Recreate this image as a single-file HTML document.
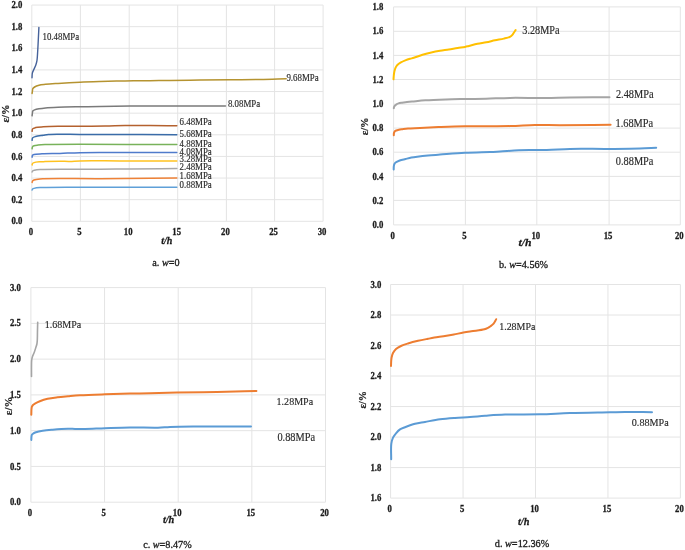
<!DOCTYPE html><html><head><meta charset="utf-8"><style>
html,body{margin:0;padding:0;background:#fff;width:685px;height:550px;overflow:hidden}
svg{display:block;will-change:transform}
text{font-family:"Liberation Serif",serif}
.tk{font-weight:bold;fill:#1a1a1a;stroke:#1a1a1a;stroke-width:0.25px}
.dl{fill:#2a2a2a;stroke:#2a2a2a;stroke-width:0.15px}
.xt{font-weight:bold;font-style:italic;fill:#1a1a1a;stroke:#1a1a1a;stroke-width:0.25px}
.yt{font-weight:bold;fill:#1a1a1a;stroke:#1a1a1a;stroke-width:0.2px}
.cp{fill:#1a1a1a;stroke:#1a1a1a;stroke-width:0.3px}
</style></head><body>
<svg width="685" height="550" viewBox="0 0 685 550">
<rect width="685" height="550" fill="#fff"/>
<g stroke="#E4E4E4" stroke-width="1" fill="none" shape-rendering="auto">
<line x1="31.8" y1="5.05" x2="31.8" y2="221.3"/>
<line x1="80.4" y1="5.05" x2="80.4" y2="221.3"/>
<line x1="129.2" y1="5.05" x2="129.2" y2="221.3"/>
<line x1="177.7" y1="5.05" x2="177.7" y2="221.3"/>
<line x1="226.4" y1="5.05" x2="226.4" y2="221.3"/>
<line x1="274.6" y1="5.05" x2="274.6" y2="221.3"/>
<line x1="323.1" y1="5.05" x2="323.1" y2="221.3"/>
<line x1="31.8" y1="221.3" x2="323.1" y2="221.3"/>
<line x1="31.8" y1="199.68" x2="323.1" y2="199.68"/>
<line x1="31.8" y1="178.05" x2="323.1" y2="178.05"/>
<line x1="31.8" y1="156.43" x2="323.1" y2="156.43"/>
<line x1="31.8" y1="134.8" x2="323.1" y2="134.8"/>
<line x1="31.8" y1="113.18" x2="323.1" y2="113.18"/>
<line x1="31.8" y1="91.55" x2="323.1" y2="91.55"/>
<line x1="31.8" y1="69.93" x2="323.1" y2="69.93"/>
<line x1="31.8" y1="48.3" x2="323.1" y2="48.3"/>
<line x1="31.8" y1="26.68" x2="323.1" y2="26.68"/>
<line x1="31.8" y1="5.05" x2="323.1" y2="5.05"/>
<line x1="393.6" y1="6.9" x2="393.6" y2="224.9"/>
<line x1="465.4" y1="6.9" x2="465.4" y2="224.9"/>
<line x1="536.8" y1="6.9" x2="536.8" y2="224.9"/>
<line x1="609.1" y1="6.9" x2="609.1" y2="224.9"/>
<line x1="680.3" y1="6.9" x2="680.3" y2="224.9"/>
<line x1="393.6" y1="224.9" x2="680.3" y2="224.9"/>
<line x1="393.6" y1="200.4" x2="680.3" y2="200.4"/>
<line x1="393.6" y1="176.4" x2="680.3" y2="176.4"/>
<line x1="393.6" y1="152.2" x2="680.3" y2="152.2"/>
<line x1="393.6" y1="128.1" x2="680.3" y2="128.1"/>
<line x1="393.6" y1="104.2" x2="680.3" y2="104.2"/>
<line x1="393.6" y1="79.5" x2="680.3" y2="79.5"/>
<line x1="393.6" y1="55.4" x2="680.3" y2="55.4"/>
<line x1="393.6" y1="31.3" x2="680.3" y2="31.3"/>
<line x1="393.6" y1="6.9" x2="680.3" y2="6.9"/>
<line x1="30.9" y1="287.6" x2="30.9" y2="502.2"/>
<line x1="104.55" y1="287.6" x2="104.55" y2="502.2"/>
<line x1="178.2" y1="287.6" x2="178.2" y2="502.2"/>
<line x1="251.85" y1="287.6" x2="251.85" y2="502.2"/>
<line x1="325.5" y1="287.6" x2="325.5" y2="502.2"/>
<line x1="30.9" y1="502.2" x2="325.5" y2="502.2"/>
<line x1="30.9" y1="466.43" x2="325.5" y2="466.43"/>
<line x1="30.9" y1="430.67" x2="325.5" y2="430.67"/>
<line x1="30.9" y1="394.9" x2="325.5" y2="394.9"/>
<line x1="30.9" y1="359.13" x2="325.5" y2="359.13"/>
<line x1="30.9" y1="323.37" x2="325.5" y2="323.37"/>
<line x1="30.9" y1="287.6" x2="325.5" y2="287.6"/>
<line x1="390.6" y1="284.5" x2="390.6" y2="498.1"/>
<line x1="463.05" y1="284.5" x2="463.05" y2="498.1"/>
<line x1="535.5" y1="284.5" x2="535.5" y2="498.1"/>
<line x1="607.95" y1="284.5" x2="607.95" y2="498.1"/>
<line x1="680.4" y1="284.5" x2="680.4" y2="498.1"/>
<line x1="390.6" y1="498.1" x2="680.4" y2="498.1"/>
<line x1="390.6" y1="467.59" x2="680.4" y2="467.59"/>
<line x1="390.6" y1="437.07" x2="680.4" y2="437.07"/>
<line x1="390.6" y1="406.56" x2="680.4" y2="406.56"/>
<line x1="390.6" y1="376.04" x2="680.4" y2="376.04"/>
<line x1="390.6" y1="345.53" x2="680.4" y2="345.53"/>
<line x1="390.6" y1="315.01" x2="680.4" y2="315.01"/>
<line x1="390.6" y1="284.5" x2="680.4" y2="284.5"/>
</g>
<g fill="none" stroke-linejoin="round" stroke-linecap="round">
<path stroke="#B59330" stroke-width="1.5" d="M32.1,93.4 C32.23,92.43 32.37,91.35 32.5,90.5 C32.6,89.83 32.51,89.25 32.8,88.7 C33.14,88.06 33.81,87.51 34.6,87 C35.7,86.29 37.36,85.64 39,85.2 C40.93,84.68 42.98,84.57 45.5,84.3 C48.99,83.93 53.25,83.7 58,83.4 C64.3,83 72.84,82.52 80,82.2 C86.82,81.89 92.96,81.71 100,81.5 C107.87,81.27 116.67,81.03 125,80.9 C133.33,80.77 142.13,80.79 150,80.7 C157.04,80.62 162.66,80.5 170,80.4 C178.99,80.27 190,80.12 200,80 C210,79.88 220,79.78 230,79.7 C240,79.62 250.34,79.68 260,79.5 C269.03,79.33 277.47,78.97 286.2,78.7"/>
<path stroke="#46629A" stroke-width="1.4" d="M32,77.8 C32.13,76.17 32.03,74.4 32.4,72.9 C32.74,71.52 33.44,70.41 34,69.1 C34.6,67.69 35.4,66.18 35.9,64.7 C36.39,63.28 36.73,62.05 37,60.4 C37.36,58.22 37.41,55.49 37.6,52.7 C37.82,49.38 38,45.69 38.2,41.8 C38.43,37.33 38.67,32.2 38.9,27.4"/>
<path stroke="#7A7A7A" stroke-width="1.5" d="M32.1,115.8 C32.23,114.7 32.36,113.38 32.5,112.5 C32.6,111.9 32.51,111.41 32.8,111 C33.14,110.51 33.84,110.22 34.6,109.9 C35.72,109.43 37.38,109.11 39,108.8 C40.95,108.42 42.98,108.14 45.5,107.9 C48.99,107.56 53.25,107.38 58,107.2 C64.3,106.97 72.84,106.9 80,106.8 C86.83,106.7 92.66,106.7 100,106.6 C108.99,106.48 118.73,106.21 130,106.1 C144.55,105.96 163.73,106.03 180,106 C195.52,105.97 210.33,105.93 225.5,105.9"/>
<path stroke="#B4612E" stroke-width="1.5" d="M32.1,131.3 C32.27,130.5 32.11,129.5 32.6,128.9 C33.17,128.2 34.34,127.93 35.6,127.6 C37.54,127.09 40.32,127.01 43.3,126.8 C47.41,126.52 52.61,126.4 58,126.3 C64.6,126.17 72.43,126.23 80,126.2 C88.07,126.17 97.13,126.21 105,126.1 C112.04,126 117.96,125.69 125,125.6 C132.87,125.5 141.52,125.58 150,125.6 C158.78,125.62 167.87,125.67 176.8,125.7"/>
<path stroke="#3A6CA8" stroke-width="1.5" d="M32.1,140.3 C32.27,139.5 32.11,138.52 32.6,137.9 C33.17,137.18 34.33,136.89 35.6,136.5 C37.54,135.91 41,135.64 43.3,135.3 C45.17,135.03 46.43,134.77 48.4,134.6 C51.09,134.37 54.15,134.35 58,134.3 C63.83,134.22 70.07,134.36 80,134.4 C100.83,134.48 144.53,134.6 176.8,134.7"/>
<path stroke="#78B25A" stroke-width="1.5" d="M32.1,148.8 C32.23,148.13 32.16,147.31 32.5,146.8 C32.82,146.32 33.34,146.06 34,145.8 C34.98,145.41 36.48,145.29 38,145.1 C40,144.85 41.2,144.74 45,144.6 C61.45,144.01 132.87,144.6 176.8,144.6"/>
<path stroke="#4F7BCB" stroke-width="1.5" d="M32.1,157.2 C32.23,156.57 32.16,155.75 32.5,155.3 C32.82,154.88 33.27,154.72 34,154.5 C35.58,154.03 38.8,153.98 42,153.8 C46.8,153.54 53.84,153.58 60,153.4 C66.49,153.21 72.19,152.85 80,152.7 C91.04,152.49 105.5,152.63 120,152.6 C137.28,152.56 157.87,152.53 176.8,152.5"/>
<path stroke="#FFC21F" stroke-width="1.5" d="M32.1,164.9 C32.27,164.4 32.29,163.78 32.6,163.4 C32.92,163.01 33.34,162.82 34,162.6 C35.28,162.17 38.09,161.97 40,161.8 C41.74,161.65 42.89,161.66 45,161.6 C48.66,161.49 55.5,161.32 60,161.3 C63.67,161.28 66.67,161.47 70,161.4 C73.33,161.33 75.55,161.01 80,160.9 C88.89,160.68 105.5,160.9 120,160.9 C137.28,160.9 157.87,160.9 176.8,160.9"/>
<path stroke="#A8A8A8" stroke-width="1.5" d="M32.1,172 C32.27,171.67 32.31,171.27 32.6,171 C32.98,170.65 33.62,170.5 34.4,170.3 C35.74,169.95 37.13,169.71 40,169.5 C49.35,168.82 83.43,169.44 100,169.3 C111.72,169.2 118.89,169.01 130,168.9 C143.87,168.76 161.2,168.7 176.8,168.6"/>
<path stroke="#EE8136" stroke-width="1.5" d="M32.1,182.4 C32.27,181.93 32.3,181.39 32.6,181 C32.92,180.58 33.33,180.29 34,180 C35.27,179.46 36.94,179.18 40,178.9 C49.59,178.01 78.77,178.82 100,178.7 C124.02,178.57 151.2,178.3 176.8,178.1"/>
<path stroke="#5FA0D8" stroke-width="1.5" d="M32.1,190 C32.27,189.67 32.33,189.26 32.6,189 C32.92,188.7 33.35,188.58 34,188.4 C35.29,188.05 36.95,187.81 40,187.6 C49.6,186.94 78.77,187.37 100,187.3 C124.02,187.22 151.2,187.23 176.8,187.2"/>
<path stroke="#FFC000" stroke-width="2.0" d="M393.5,79.3 C393.6,78.03 393.69,76.63 393.8,75.5 C393.89,74.58 393.96,73.85 394.1,73 C394.25,72.11 394.47,71.15 394.7,70.3 C394.91,69.52 395.11,68.79 395.4,68.1 C395.68,67.43 396.02,66.77 396.4,66.2 C396.76,65.68 397.06,65.3 397.6,64.8 C398.4,64.06 399.68,63.11 400.9,62.4 C402.23,61.63 403.79,61 405.3,60.4 C406.83,59.8 408.51,59.25 410,58.8 C411.33,58.4 412.29,58.27 413.8,57.8 C416.12,57.08 419.57,55.59 422.5,54.7 C425.4,53.82 428.37,53.15 431.3,52.5 C434.2,51.85 437.09,51.3 440,50.8 C442.92,50.3 445.87,49.97 448.8,49.5 C451.74,49.03 454.79,48.45 457.6,48 C460.17,47.59 462.95,47.29 465,46.9 C466.48,46.61 467.28,46.37 468.8,46 C471.11,45.43 474.58,44.42 477.5,43.8 C480.41,43.18 483.38,42.88 486.3,42.3 C489.22,41.72 492.09,40.92 495,40.3 C497.92,39.68 501.15,39.25 503.8,38.6 C506.03,38.06 508.34,37.62 509.9,36.8 C511.06,36.19 511.85,35.43 512.6,34.6 C513.3,33.82 513.77,32.8 514.3,32 C514.76,31.31 515.17,30.73 515.6,30.1"/>
<path stroke="#A5A5A5" stroke-width="2.0" d="M393.8,108.2 C393.93,107.67 393.98,107.07 394.2,106.6 C394.4,106.18 394.66,105.85 395,105.5 C395.4,105.08 395.94,104.64 396.5,104.3 C397.1,103.93 397.72,103.65 398.5,103.4 C399.49,103.08 400.83,102.9 402,102.7 C403.16,102.5 404.15,102.36 405.5,102.2 C407.33,101.98 409.45,101.84 412,101.6 C415.67,101.25 420.46,100.65 425.4,100.3 C431.5,99.87 439.07,99.62 445.9,99.4 C452.71,99.18 459.56,99.12 466.3,99 C472.92,98.88 479.11,98.87 486,98.7 C493.61,98.52 501.19,98.03 510,97.9 C520.79,97.74 535.21,98.12 546,98 C554.81,97.9 561.01,97.52 570,97.4 C581.53,97.24 596.33,97.33 609.5,97.3"/>
<path stroke="#ED7D31" stroke-width="2.0" d="M393.8,135.2 C393.87,134.4 393.74,133.52 394,132.8 C394.25,132.09 394.65,131.38 395.3,130.9 C396.14,130.28 397.69,130.08 398.9,129.8 C400.09,129.52 401.17,129.4 402.5,129.2 C404.14,128.96 405.81,128.68 408,128.5 C411.22,128.23 415.49,128.21 420,128 C425.82,127.73 432.96,127.29 440,127 C447.87,126.68 455.45,126.36 465,126.2 C477.81,125.98 497.19,126.4 510,126.1 C519.55,125.88 526.66,125.15 535,125 C543.33,124.85 550.21,125.21 560,125.2 C573.92,125.19 593.73,124.87 610.6,124.7"/>
<path stroke="#5B9BD5" stroke-width="2.0" d="M393.7,169.4 C393.73,168.43 393.68,167.39 393.8,166.5 C393.9,165.71 393.99,164.96 394.3,164.3 C394.6,163.66 394.96,163.13 395.6,162.6 C396.53,161.82 398.18,161.08 399.7,160.5 C401.43,159.84 403.56,159.48 405.5,159 C407.46,158.52 409.43,157.99 411.4,157.6 C413.33,157.22 414.96,157 417.2,156.7 C420.24,156.3 424.3,155.84 428,155.5 C431.89,155.14 435.27,154.95 440,154.6 C446.82,154.1 456.66,153.23 465,152.8 C473.33,152.37 483.54,152.23 490,152 C494.08,151.85 496.15,151.82 500,151.6 C505.27,151.3 511.83,150.48 518.7,150.2 C527.09,149.86 537.8,150.24 546.7,150 C554.83,149.78 561.31,149.1 570,148.9 C581.02,148.64 595.45,148.96 607.5,148.9 C618.72,148.85 631.04,148.86 640,148.6 C646.33,148.41 650.8,148.07 656.2,147.8"/>
<path stroke="#A5A5A5" stroke-width="1.6" d="M31.5,376.5 C31.5,372.67 31.44,368.05 31.5,365 C31.54,362.99 31.5,361.51 31.7,360 C31.87,358.72 32.12,357.69 32.5,356.5 C32.92,355.19 33.66,353.95 34.2,352.5 C34.83,350.82 35.51,348.56 36,347 C36.36,345.85 36.69,345.08 36.9,344 C37.14,342.77 37.2,341.64 37.3,340 C37.45,337.42 37.43,333.13 37.5,330 C37.56,327.24 37.63,324.8 37.7,322.2"/>
<path stroke="#ED7D31" stroke-width="2.0" d="M31.3,414.7 C31.37,412.8 31.35,410.47 31.5,409 C31.6,408.06 31.63,407.38 31.9,406.7 C32.15,406.06 32.52,405.49 33,405 C33.51,404.48 34.1,404.17 34.9,403.7 C36.13,402.98 37.95,402.05 39.8,401.3 C42.07,400.39 44.82,399.45 47.6,398.8 C50.68,398.08 54.15,397.71 57.5,397.3 C60.94,396.88 64.38,396.62 68,396.3 C71.87,395.95 75.27,395.59 80,395.3 C86.82,394.88 96.67,394.58 105,394.3 C113.33,394.02 122.13,393.79 130,393.6 C137.04,393.43 142.83,393.36 150,393.2 C158.33,393.01 167.12,392.69 177,392.5 C189.03,392.27 203.72,392.27 217,392 C230.18,391.73 243.27,391.27 256.4,390.9"/>
<path stroke="#5B9BD5" stroke-width="2.0" d="M31.3,439.9 C31.37,438.77 31.37,437.45 31.5,436.5 C31.6,435.8 31.59,435.22 31.9,434.7 C32.23,434.14 32.88,433.7 33.5,433.3 C34.19,432.85 34.87,432.54 35.9,432.2 C37.57,431.64 40.21,431.1 42.7,430.7 C45.68,430.22 48.93,429.99 52.6,429.7 C57.17,429.34 63.86,428.89 68,428.8 C70.79,428.74 72.46,428.88 75,428.9 C78.04,428.92 81.1,428.97 85,428.9 C90.52,428.8 97.96,428.42 105,428.2 C112.87,427.95 121.43,427.59 130,427.5 C139.07,427.41 150.62,427.89 158,427.7 C162.84,427.58 165.35,427.18 170,427 C176.43,426.76 183.59,426.68 193,426.6 C207.94,426.47 231.67,426.6 251,426.6"/>
<path stroke="#ED7D31" stroke-width="2.0" d="M391,366 C391.07,364.33 391.08,362.52 391.2,361 C391.3,359.73 391.34,358.73 391.6,357.5 C391.9,356.08 392.28,354.4 393,353 C393.74,351.56 394.74,350.14 396,349 C397.36,347.77 399.15,346.88 401,346 C403.09,345.01 405.44,344.3 408,343.5 C411.02,342.55 414.65,341.59 418,340.8 C421.32,340.02 424.66,339.43 428,338.8 C431.33,338.17 434.96,337.47 438,337 C440.54,336.61 442.54,336.48 445,336.1 C447.77,335.67 450.81,335.07 453.8,334.5 C456.93,333.91 460.35,333.15 463.4,332.6 C466.16,332.1 468.33,331.77 471.3,331.3 C475.12,330.69 481.43,330.13 484.4,329.3 C486.01,328.85 486.93,328.36 488,327.8 C488.93,327.31 489.64,326.83 490.5,326.2 C491.5,325.46 492.69,324.67 493.6,323.6 C494.62,322.39 495.33,320.67 496.2,319.2"/>
<path stroke="#5B9BD5" stroke-width="2.0" d="M391.2,459.2 C391.23,454.07 390.75,447.74 391.3,443.8 C391.65,441.28 392.16,439.51 393,437.7 C393.77,436.04 394.85,434.67 396,433.3 C397.18,431.9 398.49,430.42 400,429.4 C401.49,428.39 403.03,427.98 405,427.2 C407.74,426.12 411.63,424.59 415,423.7 C418.3,422.83 421.33,422.55 425,421.9 C429.49,421.11 434.99,419.97 440,419.3 C444.99,418.64 450,418.28 455,417.9 C460,417.52 465,417.35 470,417 C475,416.65 479.64,416.18 485,415.8 C491.19,415.37 497.4,414.86 505,414.6 C515.04,414.26 528.79,414.59 540,414.3 C550.39,414.03 559.28,413.33 570,413 C582.37,412.62 599.87,412.49 610,412.3 C616.2,412.18 619.27,412.04 625,412 C632.69,411.95 643,412.13 652,412.2"/>
</g>
<text class="tk" transform="translate(30.8 235.2) scale(0.97 1.05)" text-anchor="middle" font-size="9.0">0</text>
<text class="tk" transform="translate(79.4 235.2) scale(0.97 1.05)" text-anchor="middle" font-size="9.0">5</text>
<text class="tk" transform="translate(128.2 235.2) scale(0.97 1.05)" text-anchor="middle" font-size="9.0">10</text>
<text class="tk" transform="translate(176.7 235.2) scale(0.97 1.05)" text-anchor="middle" font-size="9.0">15</text>
<text class="tk" transform="translate(225.4 235.2) scale(0.97 1.05)" text-anchor="middle" font-size="9.0">20</text>
<text class="tk" transform="translate(273.6 235.2) scale(0.97 1.05)" text-anchor="middle" font-size="9.0">25</text>
<text class="tk" transform="translate(322.1 235.2) scale(0.97 1.05)" text-anchor="middle" font-size="9.0">30</text>
<text class="tk" transform="translate(22.3 224.42) scale(0.97 1.05)" text-anchor="end" font-size="9.0">0.0</text>
<text class="tk" transform="translate(22.3 202.79) scale(0.97 1.05)" text-anchor="end" font-size="9.0">0.2</text>
<text class="tk" transform="translate(22.3 181.17) scale(0.97 1.05)" text-anchor="end" font-size="9.0">0.4</text>
<text class="tk" transform="translate(22.3 159.54) scale(0.97 1.05)" text-anchor="end" font-size="9.0">0.6</text>
<text class="tk" transform="translate(22.3 137.92) scale(0.97 1.05)" text-anchor="end" font-size="9.0">0.8</text>
<text class="tk" transform="translate(22.3 116.29) scale(0.97 1.05)" text-anchor="end" font-size="9.0">1.0</text>
<text class="tk" transform="translate(22.3 94.67) scale(0.97 1.05)" text-anchor="end" font-size="9.0">1.2</text>
<text class="tk" transform="translate(22.3 73.04) scale(0.97 1.05)" text-anchor="end" font-size="9.0">1.4</text>
<text class="tk" transform="translate(22.3 51.42) scale(0.97 1.05)" text-anchor="end" font-size="9.0">1.6</text>
<text class="tk" transform="translate(22.3 29.79) scale(0.97 1.05)" text-anchor="end" font-size="9.0">1.8</text>
<text class="tk" transform="translate(22.3 8.17) scale(0.97 1.05)" text-anchor="end" font-size="9.0">2.0</text>
<text class="tk" transform="translate(392.6 238.6) scale(0.97 1.05)" text-anchor="middle" font-size="9.0">0</text>
<text class="tk" transform="translate(464.4 238.6) scale(0.97 1.05)" text-anchor="middle" font-size="9.0">5</text>
<text class="tk" transform="translate(535.8 238.6) scale(0.97 1.05)" text-anchor="middle" font-size="9.0">10</text>
<text class="tk" transform="translate(608.1 238.6) scale(0.97 1.05)" text-anchor="middle" font-size="9.0">15</text>
<text class="tk" transform="translate(679.3 238.6) scale(0.97 1.05)" text-anchor="middle" font-size="9.0">20</text>
<text class="tk" transform="translate(383.3 228.02) scale(0.97 1.05)" text-anchor="end" font-size="9.0">0.0</text>
<text class="tk" transform="translate(383.3 203.52) scale(0.97 1.05)" text-anchor="end" font-size="9.0">0.2</text>
<text class="tk" transform="translate(383.3 179.52) scale(0.97 1.05)" text-anchor="end" font-size="9.0">0.4</text>
<text class="tk" transform="translate(383.3 155.32) scale(0.97 1.05)" text-anchor="end" font-size="9.0">0.6</text>
<text class="tk" transform="translate(383.3 131.22) scale(0.97 1.05)" text-anchor="end" font-size="9.0">0.8</text>
<text class="tk" transform="translate(383.3 107.32) scale(0.97 1.05)" text-anchor="end" font-size="9.0">1.0</text>
<text class="tk" transform="translate(383.3 82.62) scale(0.97 1.05)" text-anchor="end" font-size="9.0">1.2</text>
<text class="tk" transform="translate(383.3 58.52) scale(0.97 1.05)" text-anchor="end" font-size="9.0">1.4</text>
<text class="tk" transform="translate(383.3 34.42) scale(0.97 1.05)" text-anchor="end" font-size="9.0">1.6</text>
<text class="tk" transform="translate(383.3 10.02) scale(0.97 1.05)" text-anchor="end" font-size="9.0">1.8</text>
<text class="tk" transform="translate(29.9 515.8) scale(0.97 1.05)" text-anchor="middle" font-size="9.0">0</text>
<text class="tk" transform="translate(103.55 515.8) scale(0.97 1.05)" text-anchor="middle" font-size="9.0">5</text>
<text class="tk" transform="translate(177.2 515.8) scale(0.97 1.05)" text-anchor="middle" font-size="9.0">10</text>
<text class="tk" transform="translate(250.85 515.8) scale(0.97 1.05)" text-anchor="middle" font-size="9.0">15</text>
<text class="tk" transform="translate(324.5 515.8) scale(0.97 1.05)" text-anchor="middle" font-size="9.0">20</text>
<text class="tk" transform="translate(20.9 505.32) scale(0.97 1.05)" text-anchor="end" font-size="9.0">0.0</text>
<text class="tk" transform="translate(20.9 469.55) scale(0.97 1.05)" text-anchor="end" font-size="9.0">0.5</text>
<text class="tk" transform="translate(20.9 433.79) scale(0.97 1.05)" text-anchor="end" font-size="9.0">1.0</text>
<text class="tk" transform="translate(20.9 398.02) scale(0.97 1.05)" text-anchor="end" font-size="9.0">1.5</text>
<text class="tk" transform="translate(20.9 362.25) scale(0.97 1.05)" text-anchor="end" font-size="9.0">2.0</text>
<text class="tk" transform="translate(20.9 326.49) scale(0.97 1.05)" text-anchor="end" font-size="9.0">2.5</text>
<text class="tk" transform="translate(20.9 290.72) scale(0.97 1.05)" text-anchor="end" font-size="9.0">3.0</text>
<text class="tk" transform="translate(389.6 512) scale(0.97 1.05)" text-anchor="middle" font-size="9.0">0</text>
<text class="tk" transform="translate(462.05 512) scale(0.97 1.05)" text-anchor="middle" font-size="9.0">5</text>
<text class="tk" transform="translate(534.5 512) scale(0.97 1.05)" text-anchor="middle" font-size="9.0">10</text>
<text class="tk" transform="translate(606.95 512) scale(0.97 1.05)" text-anchor="middle" font-size="9.0">15</text>
<text class="tk" transform="translate(679.4 512) scale(0.97 1.05)" text-anchor="middle" font-size="9.0">20</text>
<text class="tk" transform="translate(381.4 501.22) scale(0.97 1.05)" text-anchor="end" font-size="9.0">1.6</text>
<text class="tk" transform="translate(381.4 470.7) scale(0.97 1.05)" text-anchor="end" font-size="9.0">1.8</text>
<text class="tk" transform="translate(381.4 440.19) scale(0.97 1.05)" text-anchor="end" font-size="9.0">2.0</text>
<text class="tk" transform="translate(381.4 409.68) scale(0.97 1.05)" text-anchor="end" font-size="9.0">2.2</text>
<text class="tk" transform="translate(381.4 379.16) scale(0.97 1.05)" text-anchor="end" font-size="9.0">2.4</text>
<text class="tk" transform="translate(381.4 348.65) scale(0.97 1.05)" text-anchor="end" font-size="9.0">2.6</text>
<text class="tk" transform="translate(381.4 318.13) scale(0.97 1.05)" text-anchor="end" font-size="9.0">2.8</text>
<text class="tk" transform="translate(381.4 287.62) scale(0.97 1.05)" text-anchor="end" font-size="9.0">3.0</text>
<text class="dl" transform="translate(42.5 40) scale(0.985 1.1)" font-size="9.0">10.48MPa</text>
<text class="dl" transform="translate(286.4 81.3) scale(0.985 1.1)" font-size="9.0">9.68MPa</text>
<text class="dl" transform="translate(227.9 106.8) scale(0.985 1.1)" font-size="9.0">8.08MPa</text>
<text class="dl" transform="translate(179.6 125.1) scale(0.985 1.1)" font-size="9.0">6.48MPa</text>
<text class="dl" transform="translate(179.6 136.6) scale(0.985 1.1)" font-size="9.0">5.68MPa</text>
<text class="dl" transform="translate(179.6 146.9) scale(0.985 1.1)" font-size="9.0">4.88MPa</text>
<text class="dl" transform="translate(179.6 154.8) scale(0.985 1.1)" font-size="9.0">4.08MPa</text>
<text class="dl" transform="translate(179.6 162) scale(0.985 1.1)" font-size="9.0">3.28MPa</text>
<text class="dl" transform="translate(179.6 170.2) scale(0.985 1.1)" font-size="9.0">2.48MPa</text>
<text class="dl" transform="translate(179.6 178.5) scale(0.985 1.1)" font-size="9.0">1.68MPa</text>
<text class="dl" transform="translate(179.6 187.8) scale(0.985 1.1)" font-size="9.0">0.88MPa</text>
<text class="dl" transform="translate(522.3 34.2) scale(0.985 1.1)" font-size="10.4">3.28MPa</text>
<text class="dl" transform="translate(615.9 98.3) scale(0.985 1.1)" font-size="10.5">2.48MPa</text>
<text class="dl" transform="translate(615.5 126.9) scale(0.985 1.1)" font-size="10.5">1.68MPa</text>
<text class="dl" transform="translate(615.8 164.9) scale(0.985 1.1)" font-size="10.5">0.88MPa</text>
<text class="dl" transform="translate(44.8 328) scale(0.985 1.1)" font-size="10.2">1.68MPa</text>
<text class="dl" transform="translate(276.6 404.9) scale(0.985 1.1)" font-size="10.2">1.28MPa</text>
<text class="dl" transform="translate(277.4 440.6) scale(0.985 1.1)" font-size="10.5">0.88MPa</text>
<text class="dl" transform="translate(499.2 329.8) scale(0.985 1.1)" font-size="10.1">1.28MPa</text>
<text class="dl" transform="translate(631.8 425.7) scale(0.985 1.1)" font-size="10.3">0.88MPa</text>
<text class="xt" transform="translate(161.2 243.6) scale(1.03 1.0)" font-size="9.8">t/h</text>
<text class="xt" transform="translate(518.5 245.6) scale(1.03 1.0)" font-size="11.4">t/h</text>
<text class="xt" transform="translate(162.9 523.2) scale(1.03 1.0)" font-size="10.0">t/h</text>
<text class="xt" transform="translate(518 525.2) scale(1.03 1.0)" font-size="10.0">t/h</text>
<text class="yt" x="5.5" y="116.97" font-size="10.5" text-anchor="middle" transform="rotate(-90 5.5 113.5)">ε/%</text>
<text class="yt" x="364.5" y="129.87" font-size="10.5" text-anchor="middle" transform="rotate(-90 364.5 126.4)">ε/%</text>
<text class="yt" x="8.2" y="409.56" font-size="10.8" text-anchor="middle" transform="rotate(-90 8.2 406)">ε/%</text>
<text class="yt" x="362.2" y="403.17" font-size="10.2" text-anchor="middle" transform="rotate(-90 362.2 399.8)">ε/%</text>
<text class="cp" transform="translate(152.3 266.4) scale(1 1.08)" font-size="10.2">a. <tspan font-style="italic">w</tspan>=0</text>
<text class="cp" transform="translate(499 268) scale(1 1.08)" font-size="10.2">b. <tspan font-style="italic">w</tspan>=4.56%</text>
<text class="cp" transform="translate(143.2 548) scale(1 1.08)" font-size="10.2">c. <tspan font-style="italic">w</tspan>=8.47%</text>
<text class="cp" transform="translate(494.8 546.8) scale(1 1.08)" font-size="10.25">d. <tspan font-style="italic">w</tspan>=12.36%</text>
</svg></body></html>
